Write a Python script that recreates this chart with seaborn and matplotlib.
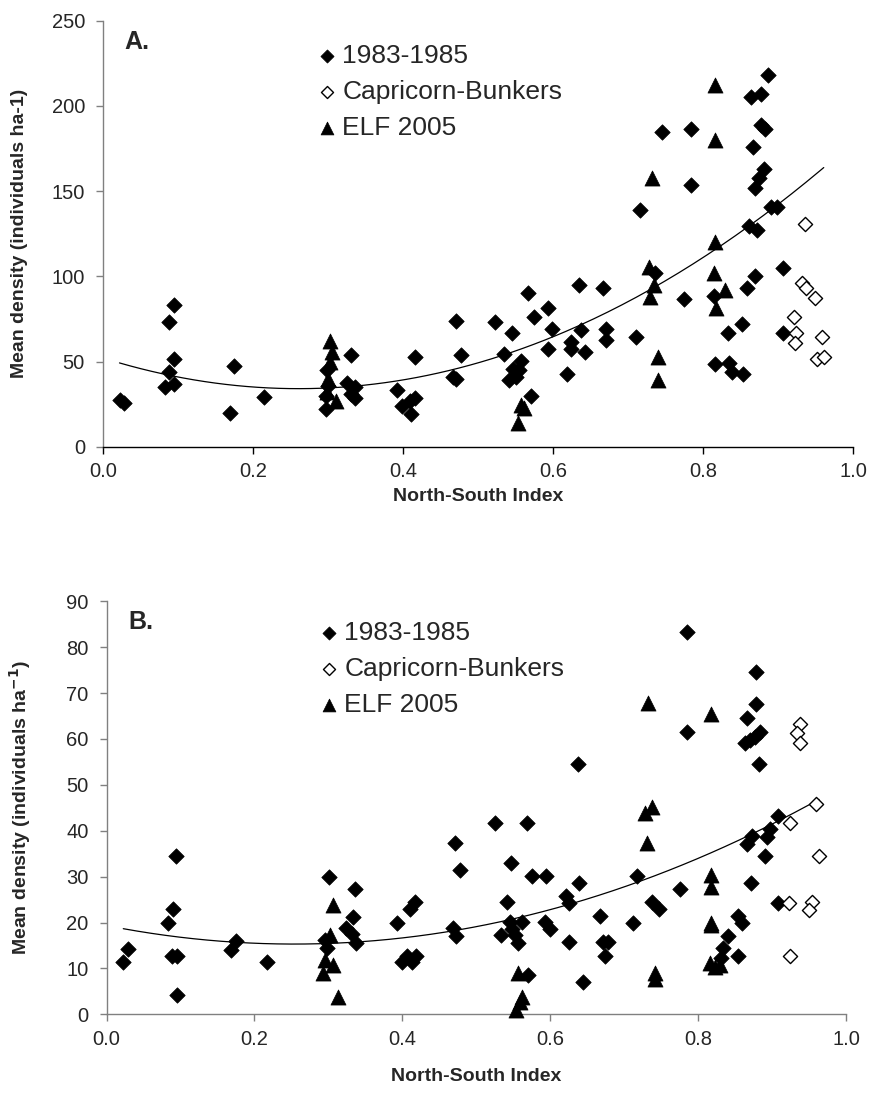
import numpy as np
import pandas as pd
import matplotlib
matplotlib.use("Agg")
import matplotlib.pyplot as plt
import seaborn as sns

# ---------------- Panel A data ----------------
a_hist_x = [0.022, 0.028, 0.094, 0.088, 0.094, 0.088, 0.082, 0.094, 0.174, 0.169, 0.215,
            0.298, 0.300, 0.297, 0.297, 0.331, 0.325, 0.336, 0.330, 0.336,
            0.392, 0.399, 0.409, 0.411, 0.416, 0.416, 0.470, 0.477, 0.467, 0.470,
            0.523, 0.534, 0.546, 0.5575, 0.555, 0.541, 0.551, 0.571,
            0.545, 0.567, 0.574, 0.593, 0.599, 0.593, 0.618, 0.624, 0.624, 0.643, 0.635, 0.637,
            0.666, 0.670, 0.671, 0.711, 0.716, 0.745, 0.736, 0.774, 0.784, 0.784,
            0.887, 0.864, 0.877, 0.877, 0.883, 0.866, 0.8815, 0.874, 0.8695, 0.891, 0.898,
            0.8615, 0.8726, 0.906, 0.8695, 0.859, 0.815, 0.8526, 0.8336, 0.906, 0.8158, 0.835,
            0.839, 0.8535]
a_hist_y = [27.5, 25.6, 83, 73.5, 51.6, 44.2, 35.4, 36.7, 47.5, 20.1, 29.1,
            45, 36, 30, 22, 54, 37.3, 35, 31, 29,
            33.4, 24, 27, 19.3, 28.5, 53, 74, 54, 41, 40,
            73.5, 54.3, 46, 50.4, 45, 39.3, 41, 30,
            67, 90.4, 76, 81.7, 69, 57.3, 42.8, 61.7, 57.3, 55.9, 95, 68.6,
            93, 69, 63, 64.3, 139, 185, 102, 87, 186.4, 153.6,
            218, 205, 207.3, 188.7, 186.2, 176, 162.8, 157.5, 151.6, 141, 141,
            129.5, 127.2, 105, 100.2, 93, 88.5, 72, 67, 67, 48.7, 49,
            44.2, 42.6]
a_cap_x = [0.936, 0.9325, 0.937, 0.949, 0.9214, 0.9237, 0.9228, 0.958, 0.9516, 0.961]
a_cap_y = [130.5, 96, 93, 87.2, 76, 67, 61.2, 64.7, 51.4, 52.9]
a_elf_x = [0.302, 0.305, 0.303, 0.300, 0.298, 0.311, 0.5575, 0.561, 0.553,
           0.7315, 0.7275, 0.735, 0.729, 0.740, 0.740,
           0.8162, 0.8162, 0.8162, 0.815, 0.8296, 0.817]
a_elf_y = [62, 56, 50, 40, 32, 27, 24.6, 23, 14,
           157.5, 105.7, 95, 88, 53, 39,
           212.2, 180, 120.4, 102, 92, 81.3]

# ---------------- Panel B data ----------------
b_hist_x = [0.0227, 0.0287, 0.094, 0.0895, 0.0827, 0.088, 0.096, 0.095, 0.169, 0.175, 0.217,
            0.301, 0.2955, 0.298, 0.333, 0.336, 0.324, 0.337, 0.332,
            0.393, 0.417, 0.410, 0.399, 0.406, 0.413, 0.419,
            0.471, 0.478, 0.469, 0.4726,
            0.526, 0.568, 0.5466, 0.576, 0.594, 0.637, 0.639, 0.621, 0.626, 0.541, 0.5457,
            0.5615, 0.534, 0.552, 0.557, 0.549, 0.593, 0.5997, 0.626, 0.644, 0.668, 0.672,
            0.6786, 0.674, 0.712, 0.718, 0.737, 0.7476, 0.570,
            0.7846, 0.7846, 0.878, 0.878, 0.8657, 0.8837, 0.877, 0.870, 0.8634, 0.8828,
            0.9085, 0.897, 0.8928, 0.8725, 0.8666, 0.890, 0.871, 0.7755, 0.9076, 0.8544,
            0.859, 0.841, 0.834, 0.854, 0.831]
b_hist_y = [11.5, 14.2, 34.5, 22.9, 20, 12.8, 12.8, 4.2, 14, 16, 11.5,
            30, 16.2, 14.4, 21.3, 27.2, 18.7, 15.6, 17.5,
            19.8, 24.5, 22.9, 11.5, 12.6, 11.5, 12.6,
            37.3, 31.4, 18.7, 17.1,
            41.6, 41.6, 33, 30.1, 30.1, 54.5, 28.7, 25.8, 24.2, 24.5, 20.2,
            20.2, 17.3, 17.3, 15.5, 18.6, 20.2, 18.5, 15.8, 7.1, 21.4, 15.8,
            15.8, 12.7, 20, 30.1, 24.5, 22.9, 8.6,
            83.4, 61.6, 74.7, 67.6, 64.5, 61.6, 60.5, 59.8, 59.1, 54.5,
            43.2, 40.3, 38.7, 38.9, 37.1, 34.5, 28.7, 27.2, 24.3, 21.4,
            19.8, 17.1, 14.4, 12.7, 12.3]
b_cap_x = [0.9378, 0.9333, 0.9378, 0.960, 0.924, 0.9635, 0.923, 0.9536, 0.950, 0.924]
b_cap_y = [63.2, 61.4, 59.1, 45.8, 41.6, 34.5, 24.3, 24.5, 22.7, 12.7]
b_elf_x = [0.3067, 0.302, 0.2955, 0.3067, 0.293, 0.3126, 0.557, 0.5615, 0.559, 0.554,
           0.7327, 0.737, 0.728, 0.7305, 0.7417, 0.742,
           0.8175, 0.8175, 0.8175, 0.8175, 0.8175, 0.816, 0.8296, 0.823]
b_elf_y = [23.8, 17.3, 11.8, 10.7, 8.9, 3.8, 8.9, 3.8, 2.7, 0.9,
           67.9, 45.2, 43.9, 37.3, 8.9, 7.8,
           65.4, 30.4, 27.8, 20, 19.5, 11.1, 10.7, 10.4]

series_labels = ["1983-1985", "Capricorn-Bunkers", "ELF 2005"]
x_ticks = [0.0, 0.2, 0.4, 0.6, 0.8, 1.0]
a_yticks = [0, 50, 100, 150, 200, 250]
b_yticks = [0, 10, 20, 30, 40, 50, 60, 70, 80, 90]

sns.set_style("white")
plt.rcParams["font.family"] = ["Liberation Sans", "DejaVu Sans"]

W, H = 872, 1095
fig = plt.figure(figsize=(W / 100, H / 100), dpi=100)

def px_axes(left, right, top, bottom):
    return fig.add_axes([left / W, 1 - bottom / H, (right - left) / W, (bottom - top) / H])

axA = px_axes(103, 853, 20.7, 447)
axB = px_axes(106.5, 846, 601.3, 1014.3)

def draw(ax, hx, hy, cx, cy, ex, ey, fit_x, fit_y, yticks, ymax, ylabel, panel,
         spine_bottom, leg_anchor):
    # 2nd-order polynomial trend line fitted to the data, spanning the full x range
    allx = np.array(list(hx) + list(cx) + list(ex))
    coef = np.polyfit(np.array(fit_x), np.array(fit_y), 2)
    xs = np.linspace(allx.min(), allx.max(), 200)
    sns.lineplot(x=xs, y=np.polyval(coef, xs), ax=ax, color="black", lw=0.9, zorder=2)
    sns.scatterplot(x=hx, y=hy, ax=ax, marker="D", s=62, color="black", edgecolor="black",
                    linewidth=0.5, label=series_labels[0], clip_on=False, zorder=3)
    sns.scatterplot(x=cx, y=cy, ax=ax, marker="D", s=52, color="white", edgecolor="black",
                    linewidth=1.0, label=series_labels[1], clip_on=False, zorder=3)
    sns.scatterplot(x=ex, y=ey, ax=ax, marker="^", s=118, color="black", edgecolor="black",
                    linewidth=0.5, label=series_labels[2], clip_on=False, zorder=3)
    ax.set_xlim(0, 1)
    ax.set_ylim(0, ymax)
    ax.set_xticks(x_ticks)
    ax.set_xticklabels([f"{t:.1f}" for t in x_ticks])
    ax.set_yticks(yticks)
    ax.set_yticklabels([str(t) for t in yticks])
    for s in ["top", "right"]:
        ax.spines[s].set_visible(False)
    ax.spines["left"].set_color("#808080")
    ax.spines["left"].set_linewidth(1.0)
    ax.spines["bottom"].set_color(spine_bottom)
    ax.spines["bottom"].set_linewidth(1.0)
    ax.tick_params(axis="y", direction="out", length=5, width=1.0, color="#808080",
                   labelsize=14.5, pad=8, left=True)
    ax.tick_params(axis="x", direction="out", length=5, width=1.0, color=spine_bottom,
                   labelsize=14.5, pad=6, bottom=True)
    ax.set_xlabel("North-South Index", fontsize=14, fontweight="bold")
    ax.set_ylabel(ylabel, fontsize=14, fontweight="bold")
    ax.text(0.029, 0.95, panel, transform=ax.transAxes, fontsize=18, fontweight="bold",
            ha="left", va="center")
    ax.legend(loc="upper left", bbox_to_anchor=leg_anchor, bbox_transform=fig.transFigure,
              frameon=False, fontsize=19, handletextpad=0.2, borderaxespad=0, borderpad=0,
              labelspacing=0.46, handlelength=0.8, markerscale=0.85)
    return ax

draw(axA, a_hist_x, a_hist_y, a_cap_x, a_cap_y, a_elf_x, a_elf_y,
     a_hist_x, a_hist_y, a_yticks, 250,
     "Mean density (individuals ha-1)", "A.", "black", (316 / W, 1 - 44 / H))
draw(axB, b_hist_x, b_hist_y, b_cap_x, b_cap_y, b_elf_x, b_elf_y,
     b_hist_x + b_elf_x, b_hist_y + b_elf_y, b_yticks, 90,
     "Mean density (individuals ha$^{\\mathbf{-1}}$)", "B.", "#808080", (318 / W, 1 - 621 / H))

axA.xaxis.set_label_coords(0.5, -0.117)
axA.xaxis.label.set_va("center")
axA.yaxis.set_label_coords((20 - 103) / 750, 0.5)
axA.yaxis.label.set_va("center")
axB.xaxis.set_label_coords(0.5, -0.15)
axB.xaxis.label.set_va("center")
axB.yaxis.set_label_coords((20 - 106.5) / 739.5, 0.5)
axB.yaxis.label.set_va("center")

fig.savefig("out.png", dpi=100)
